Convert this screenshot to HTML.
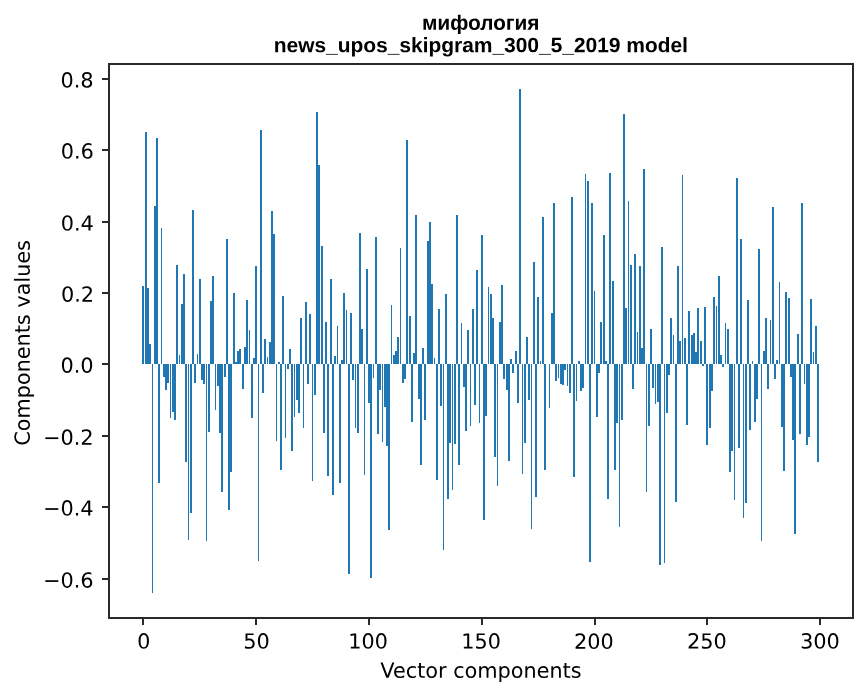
<!DOCTYPE html>
<html><head><meta charset="utf-8"><title>chart</title>
<style>html,body{margin:0;padding:0;background:#fff;}#c{position:relative;width:867px;height:696px;overflow:hidden;background:#fff;font-family:"Liberation Sans",sans-serif;}
#c svg{position:absolute;left:0;top:0;}</style></head>
<body><div id="c">
<svg width="867" height="696" viewBox="0 0 867 696" shape-rendering="crispEdges">
<g fill="#1f77b4"><rect x="142" y="286" width="2" height="78"/><rect x="145" y="132" width="2" height="232"/><rect x="147" y="288" width="2" height="76"/><rect x="149" y="344" width="2" height="20"/><rect x="152" y="364" width="1" height="229"/><rect x="154" y="206" width="2" height="158"/><rect x="156" y="138" width="2" height="226"/><rect x="158" y="364" width="2" height="119"/><rect x="161" y="228" width="1" height="136"/><rect x="163" y="364" width="2" height="13"/><rect x="165" y="364" width="2" height="26"/><rect x="167" y="364" width="2" height="19"/><rect x="170" y="364" width="1" height="54"/><rect x="172" y="364" width="2" height="48"/><rect x="174" y="364" width="2" height="56"/><rect x="176" y="265" width="2" height="99"/><rect x="179" y="355" width="1" height="9"/><rect x="181" y="304" width="2" height="60"/><rect x="183" y="274" width="2" height="90"/><rect x="185" y="364" width="2" height="98"/><rect x="188" y="364" width="1" height="176"/><rect x="190" y="364" width="2" height="149"/><rect x="192" y="210" width="2" height="154"/><rect x="194" y="364" width="2" height="19"/><rect x="197" y="354" width="1" height="10"/><rect x="199" y="279" width="2" height="85"/><rect x="201" y="364" width="2" height="16"/><rect x="203" y="364" width="2" height="20"/><rect x="206" y="364" width="1" height="177"/><rect x="208" y="364" width="2" height="68"/><rect x="210" y="301" width="2" height="63"/><rect x="212" y="276" width="2" height="88"/><rect x="215" y="364" width="1" height="46"/><rect x="217" y="364" width="2" height="22"/><rect x="219" y="364" width="2" height="69"/><rect x="221" y="364" width="2" height="128"/><rect x="224" y="364" width="2" height="13"/><rect x="226" y="239" width="2" height="125"/><rect x="228" y="364" width="2" height="146"/><rect x="230" y="364" width="2" height="108"/><rect x="233" y="293" width="2" height="71"/><rect x="235" y="362" width="2" height="2"/><rect x="237" y="351" width="2" height="13"/><rect x="239" y="349" width="2" height="15"/><rect x="242" y="364" width="2" height="25"/><rect x="244" y="347" width="2" height="17"/><rect x="246" y="300" width="2" height="64"/><rect x="249" y="330" width="1" height="34"/><rect x="251" y="364" width="2" height="54"/><rect x="253" y="358" width="2" height="6"/><rect x="255" y="266" width="2" height="98"/><rect x="258" y="364" width="1" height="197"/><rect x="260" y="130" width="2" height="234"/><rect x="262" y="364" width="2" height="29"/><rect x="264" y="339" width="2" height="25"/><rect x="267" y="357" width="1" height="7"/><rect x="269" y="342" width="2" height="22"/><rect x="271" y="211" width="2" height="153"/><rect x="273" y="234" width="2" height="130"/><rect x="276" y="364" width="1" height="77"/><rect x="278" y="362" width="2" height="2"/><rect x="280" y="364" width="2" height="106"/><rect x="282" y="296" width="2" height="68"/><rect x="285" y="364" width="1" height="74"/><rect x="287" y="364" width="2" height="5"/><rect x="289" y="349" width="2" height="15"/><rect x="291" y="364" width="2" height="87"/><rect x="294" y="364" width="1" height="53"/><rect x="296" y="364" width="2" height="36"/><rect x="298" y="364" width="2" height="49"/><rect x="300" y="318" width="2" height="46"/><rect x="303" y="364" width="1" height="64"/><rect x="305" y="302" width="2" height="62"/><rect x="307" y="364" width="2" height="20"/><rect x="309" y="314" width="2" height="50"/><rect x="312" y="364" width="1" height="117"/><rect x="314" y="364" width="2" height="31"/><rect x="316" y="112" width="2" height="252"/><rect x="318" y="165" width="2" height="199"/><rect x="321" y="246" width="2" height="118"/><rect x="323" y="364" width="2" height="69"/><rect x="325" y="322" width="2" height="42"/><rect x="327" y="364" width="2" height="112"/><rect x="330" y="279" width="2" height="85"/><rect x="332" y="364" width="2" height="131"/><rect x="334" y="356" width="2" height="8"/><rect x="337" y="326" width="1" height="38"/><rect x="339" y="364" width="2" height="119"/><rect x="341" y="360" width="2" height="4"/><rect x="343" y="293" width="2" height="71"/><rect x="346" y="310" width="1" height="54"/><rect x="348" y="364" width="2" height="210"/><rect x="350" y="313" width="2" height="51"/><rect x="352" y="364" width="2" height="16"/><rect x="355" y="364" width="1" height="64"/><rect x="357" y="364" width="2" height="69"/><rect x="359" y="233" width="2" height="131"/><rect x="361" y="329" width="2" height="35"/><rect x="364" y="364" width="1" height="111"/><rect x="366" y="269" width="2" height="95"/><rect x="368" y="364" width="2" height="39"/><rect x="370" y="364" width="2" height="214"/><rect x="373" y="364" width="1" height="14"/><rect x="375" y="237" width="2" height="127"/><rect x="377" y="364" width="2" height="70"/><rect x="379" y="364" width="2" height="26"/><rect x="382" y="364" width="1" height="78"/><rect x="384" y="364" width="2" height="43"/><rect x="386" y="364" width="2" height="82"/><rect x="388" y="364" width="2" height="166"/><rect x="391" y="305" width="1" height="59"/><rect x="393" y="355" width="2" height="9"/><rect x="395" y="351" width="2" height="13"/><rect x="397" y="337" width="2" height="27"/><rect x="400" y="248" width="1" height="116"/><rect x="402" y="364" width="2" height="19"/><rect x="404" y="364" width="2" height="15"/><rect x="406" y="140" width="2" height="224"/><rect x="409" y="316" width="2" height="48"/><rect x="411" y="364" width="2" height="58"/><rect x="413" y="353" width="2" height="11"/><rect x="415" y="215" width="2" height="149"/><rect x="418" y="364" width="2" height="35"/><rect x="420" y="364" width="2" height="101"/><rect x="422" y="348" width="2" height="16"/><rect x="424" y="364" width="2" height="56"/><rect x="427" y="241" width="2" height="123"/><rect x="429" y="222" width="2" height="142"/><rect x="431" y="284" width="2" height="80"/><rect x="434" y="358" width="1" height="6"/><rect x="436" y="364" width="2" height="116"/><rect x="438" y="309" width="2" height="55"/><rect x="440" y="364" width="2" height="42"/><rect x="443" y="364" width="1" height="186"/><rect x="445" y="294" width="2" height="70"/><rect x="447" y="364" width="2" height="135"/><rect x="449" y="364" width="2" height="79"/><rect x="452" y="364" width="1" height="126"/><rect x="454" y="364" width="2" height="80"/><rect x="456" y="215" width="2" height="149"/><rect x="458" y="364" width="2" height="101"/><rect x="461" y="323" width="1" height="41"/><rect x="463" y="364" width="2" height="23"/><rect x="465" y="364" width="2" height="67"/><rect x="467" y="330" width="2" height="34"/><rect x="470" y="364" width="1" height="62"/><rect x="472" y="309" width="2" height="55"/><rect x="474" y="364" width="2" height="41"/><rect x="476" y="270" width="2" height="94"/><rect x="479" y="364" width="1" height="59"/><rect x="481" y="235" width="2" height="129"/><rect x="483" y="364" width="2" height="156"/><rect x="485" y="364" width="2" height="52"/><rect x="488" y="287" width="1" height="77"/><rect x="490" y="294" width="2" height="70"/><rect x="492" y="318" width="2" height="46"/><rect x="494" y="364" width="2" height="93"/><rect x="497" y="364" width="1" height="122"/><rect x="499" y="322" width="2" height="42"/><rect x="501" y="285" width="2" height="79"/><rect x="503" y="364" width="2" height="15"/><rect x="506" y="364" width="2" height="26"/><rect x="508" y="364" width="2" height="97"/><rect x="510" y="359" width="2" height="5"/><rect x="512" y="364" width="2" height="9"/><rect x="515" y="351" width="2" height="13"/><rect x="517" y="364" width="2" height="39"/><rect x="519" y="89" width="2" height="275"/><rect x="522" y="364" width="1" height="110"/><rect x="524" y="364" width="2" height="79"/><rect x="526" y="337" width="2" height="27"/><rect x="528" y="364" width="2" height="36"/><rect x="531" y="364" width="1" height="165"/><rect x="533" y="262" width="2" height="102"/><rect x="535" y="364" width="2" height="133"/><rect x="537" y="297" width="2" height="67"/><rect x="540" y="361" width="1" height="3"/><rect x="542" y="217" width="2" height="147"/><rect x="544" y="364" width="2" height="106"/><rect x="549" y="364" width="1" height="44"/><rect x="551" y="313" width="2" height="51"/><rect x="553" y="203" width="2" height="161"/><rect x="555" y="364" width="2" height="17"/><rect x="558" y="364" width="1" height="14"/><rect x="560" y="364" width="2" height="20"/><rect x="562" y="364" width="2" height="21"/><rect x="564" y="364" width="2" height="6"/><rect x="567" y="364" width="1" height="22"/><rect x="569" y="364" width="2" height="29"/><rect x="571" y="197" width="2" height="167"/><rect x="573" y="364" width="2" height="113"/><rect x="576" y="364" width="1" height="37"/><rect x="578" y="361" width="2" height="3"/><rect x="580" y="364" width="2" height="27"/><rect x="582" y="364" width="2" height="24"/><rect x="585" y="174" width="1" height="190"/><rect x="587" y="181" width="2" height="183"/><rect x="589" y="364" width="2" height="198"/><rect x="591" y="203" width="2" height="161"/><rect x="594" y="291" width="1" height="73"/><rect x="596" y="364" width="2" height="53"/><rect x="598" y="364" width="2" height="9"/><rect x="600" y="322" width="2" height="42"/><rect x="603" y="235" width="2" height="129"/><rect x="605" y="361" width="2" height="3"/><rect x="607" y="364" width="2" height="135"/><rect x="609" y="173" width="2" height="191"/><rect x="612" y="281" width="2" height="83"/><rect x="614" y="364" width="2" height="106"/><rect x="616" y="364" width="2" height="59"/><rect x="619" y="364" width="1" height="163"/><rect x="621" y="364" width="2" height="56"/><rect x="623" y="114" width="2" height="250"/><rect x="625" y="308" width="2" height="56"/><rect x="628" y="201" width="1" height="163"/><rect x="630" y="265" width="2" height="99"/><rect x="632" y="364" width="2" height="25"/><rect x="634" y="254" width="2" height="110"/><rect x="637" y="332" width="1" height="32"/><rect x="639" y="266" width="2" height="98"/><rect x="641" y="348" width="2" height="16"/><rect x="643" y="169" width="2" height="195"/><rect x="646" y="364" width="1" height="128"/><rect x="648" y="364" width="2" height="62"/><rect x="650" y="329" width="2" height="35"/><rect x="652" y="364" width="2" height="24"/><rect x="655" y="364" width="1" height="40"/><rect x="657" y="364" width="2" height="38"/><rect x="659" y="364" width="2" height="201"/><rect x="661" y="247" width="2" height="117"/><rect x="664" y="364" width="1" height="199"/><rect x="666" y="364" width="2" height="49"/><rect x="668" y="364" width="2" height="11"/><rect x="670" y="318" width="2" height="46"/><rect x="673" y="335" width="1" height="29"/><rect x="675" y="364" width="2" height="138"/><rect x="677" y="266" width="2" height="98"/><rect x="679" y="341" width="2" height="23"/><rect x="682" y="175" width="1" height="189"/><rect x="684" y="338" width="2" height="26"/><rect x="686" y="364" width="2" height="61"/><rect x="688" y="311" width="2" height="53"/><rect x="691" y="335" width="2" height="29"/><rect x="693" y="333" width="2" height="31"/><rect x="695" y="352" width="2" height="12"/><rect x="697" y="308" width="2" height="56"/><rect x="700" y="341" width="2" height="23"/><rect x="702" y="364" width="2" height="2"/><rect x="704" y="307" width="2" height="57"/><rect x="706" y="364" width="2" height="81"/><rect x="709" y="364" width="2" height="64"/><rect x="711" y="364" width="2" height="27"/><rect x="713" y="297" width="2" height="67"/><rect x="716" y="306" width="1" height="58"/><rect x="718" y="276" width="2" height="88"/><rect x="720" y="355" width="2" height="9"/><rect x="722" y="364" width="2" height="3"/><rect x="725" y="323" width="1" height="41"/><rect x="727" y="329" width="2" height="35"/><rect x="729" y="364" width="2" height="108"/><rect x="731" y="364" width="2" height="87"/><rect x="734" y="364" width="1" height="136"/><rect x="736" y="178" width="2" height="186"/><rect x="738" y="364" width="2" height="84"/><rect x="740" y="239" width="2" height="125"/><rect x="743" y="364" width="1" height="154"/><rect x="745" y="364" width="2" height="139"/><rect x="747" y="300" width="2" height="64"/><rect x="749" y="364" width="2" height="66"/><rect x="752" y="361" width="1" height="3"/><rect x="754" y="364" width="2" height="58"/><rect x="756" y="364" width="2" height="35"/><rect x="758" y="249" width="2" height="115"/><rect x="761" y="364" width="1" height="177"/><rect x="763" y="351" width="2" height="13"/><rect x="765" y="318" width="2" height="46"/><rect x="767" y="364" width="2" height="25"/><rect x="770" y="320" width="1" height="44"/><rect x="772" y="207" width="2" height="157"/><rect x="774" y="364" width="2" height="15"/><rect x="776" y="360" width="2" height="4"/><rect x="779" y="282" width="1" height="82"/><rect x="781" y="364" width="2" height="63"/><rect x="783" y="364" width="2" height="107"/><rect x="785" y="292" width="2" height="72"/><rect x="788" y="298" width="2" height="66"/><rect x="790" y="364" width="2" height="13"/><rect x="792" y="364" width="2" height="76"/><rect x="794" y="364" width="2" height="170"/><rect x="797" y="334" width="2" height="30"/><rect x="799" y="364" width="2" height="70"/><rect x="801" y="203" width="2" height="161"/><rect x="804" y="364" width="1" height="20"/><rect x="806" y="364" width="2" height="81"/><rect x="808" y="364" width="2" height="73"/><rect x="810" y="299" width="2" height="65"/><rect x="813" y="352" width="1" height="12"/><rect x="815" y="326" width="2" height="38"/><rect x="817" y="364" width="2" height="98"/></g>
<g fill="#2a2a2a"><rect x="108" y="63" width="2" height="556"/><rect x="852" y="63" width="2" height="556"/><rect x="108" y="63" width="746" height="2"/><rect x="108" y="617" width="746" height="2"/><rect x="102" y="78" width="7" height="2"/><rect x="102" y="149" width="7" height="2"/><rect x="102" y="221" width="7" height="2"/><rect x="102" y="292" width="7" height="2"/><rect x="102" y="363" width="7" height="2"/><rect x="102" y="435" width="7" height="2"/><rect x="102" y="506" width="7" height="2"/><rect x="102" y="578" width="7" height="2"/><rect x="142" y="619" width="2" height="6"/><rect x="255" y="619" width="2" height="6"/><rect x="368" y="619" width="2" height="6"/><rect x="481" y="619" width="2" height="6"/><rect x="594" y="619" width="2" height="6"/><rect x="706" y="619" width="2" height="6"/><rect x="819" y="619" width="2" height="6"/></g>
</svg>
<svg style="position:absolute;left:0;top:0" width="867" height="696" viewBox="0 0 416.480 334.886"> <defs> <style type="text/css">*{stroke-linejoin: round; stroke-linecap: butt}</style> </defs> <g id="figure_1"> <g id="axes_1"> <g id="matplotlib.axis_1"> <g id="xtick_1"> <g id="text_1" transform="translate(0.0000 0.1200)"> <g transform="translate(65.645 311.928) scale(0.1 -0.1)"> <defs> <path id="DejaVuSans-30" d="M 2034 4250  Q 1547 4250 1301 3770  Q 1056 3291 1056 2328  Q 1056 1369 1301 889  Q 1547 409 2034 409  Q 2525 409 2770 889  Q 3016 1369 3016 2328  Q 3016 3291 2770 3770  Q 2525 4250 2034 4250  z M 2034 4750  Q 2819 4750 3233 4129  Q 3647 3509 3647 2328  Q 3647 1150 3233 529  Q 2819 -91 2034 -91  Q 1250 -91 836 529  Q 422 1150 422 2328  Q 422 3509 836 4129  Q 1250 4750 2034 4750  z " transform="scale(0.015625)" /> </defs> <use href="#DejaVuSans-30" /> </g> </g> </g> <g id="xtick_2"> <g id="text_2" transform="translate(0.1200 0.1200)"> <g transform="translate(116.609 311.928) scale(0.1 -0.1)"> <defs> <path id="DejaVuSans-35" d="M 691 4666  L 3169 4666  L 3169 4134  L 1269 4134  L 1269 2991  Q 1406 3038 1543 3061  Q 1681 3084 1819 3084  Q 2600 3084 3056 2656  Q 3513 2228 3513 1497  Q 3513 744 3044 326  Q 2575 -91 1722 -91  Q 1428 -91 1123 -41  Q 819 9 494 109  L 494 744  Q 775 591 1075 516  Q 1375 441 1709 441  Q 2250 441 2565 725  Q 2881 1009 2881 1497  Q 2881 1984 2565 2268  Q 2250 2553 1709 2553  Q 1456 2553 1204 2497  Q 953 2441 691 2322  L 691 4666  z " transform="scale(0.015625)" /> </defs> <use href="#DejaVuSans-35" /> <use href="#DejaVuSans-30" transform="translate(63.623 0)" /> </g> </g> </g> <g id="xtick_3"> <g id="text_3" transform="translate(-0.3600 0.1200)"> <g transform="translate(167.573 311.928) scale(0.1 -0.1)"> <defs> <path id="DejaVuSans-31" d="M 794 531  L 1825 531  L 1825 4091  L 703 3866  L 703 4441  L 1819 4666  L 2450 4666  L 2450 531  L 3481 531  L 3481 0  L 794 0  L 794 531  z " transform="scale(0.015625)" /> </defs> <use href="#DejaVuSans-31" /> <use href="#DejaVuSans-30" transform="translate(63.623 0)" /> <use href="#DejaVuSans-30" transform="translate(127.246 0)" /> </g> </g> </g> <g id="xtick_4"> <g id="text_4" transform="translate(-0.1200 0.1200)"> <g transform="translate(221.718 311.928) scale(0.1 -0.1)"> <use href="#DejaVuSans-31" /> <use href="#DejaVuSans-35" transform="translate(63.623 0)" /> <use href="#DejaVuSans-30" transform="translate(127.246 0)" /> </g> </g> </g> <g id="xtick_5"> <g id="text_5" transform="translate(0.0000 0.2400)"> <g transform="translate(275.863 311.928) scale(0.1 -0.1)"> <defs> <path id="DejaVuSans-32" d="M 1228 531  L 3431 531  L 3431 0  L 469 0  L 469 531  Q 828 903 1448 1529  Q 2069 2156 2228 2338  Q 2531 2678 2651 2914  Q 2772 3150 2772 3378  Q 2772 3750 2511 3984  Q 2250 4219 1831 4219  Q 1534 4219 1204 4116  Q 875 4013 500 3803  L 500 4441  Q 881 4594 1212 4672  Q 1544 4750 1819 4750  Q 2544 4750 2975 4387  Q 3406 4025 3406 3419  Q 3406 3131 3298 2873  Q 3191 2616 2906 2266  Q 2828 2175 2409 1742  Q 1991 1309 1228 531  z " transform="scale(0.015625)" /> </defs> <use href="#DejaVuSans-32" /> <use href="#DejaVuSans-30" transform="translate(63.623 0)" /> <use href="#DejaVuSans-30" transform="translate(127.246 0)" /> </g> </g> </g> <g id="xtick_6"> <g id="text_6" transform="translate(0.2400 0.1200)"> <g transform="translate(330.009 311.928) scale(0.1 -0.1)"> <use href="#DejaVuSans-32" /> <use href="#DejaVuSans-35" transform="translate(63.623 0)" /> <use href="#DejaVuSans-30" transform="translate(127.246 0)" /> </g> </g> </g> <g id="xtick_7"> <g id="text_7" transform="translate(0.4800 0.1200)"> <g transform="translate(384.154 311.928) scale(0.1 -0.1)"> <defs> <path id="DejaVuSans-33" d="M 2597 2516  Q 3050 2419 3304 2112  Q 3559 1806 3559 1356  Q 3559 666 3084 287  Q 2609 -91 1734 -91  Q 1441 -91 1130 -33  Q 819 25 488 141  L 488 750  Q 750 597 1062 519  Q 1375 441 1716 441  Q 2309 441 2620 675  Q 2931 909 2931 1356  Q 2931 1769 2642 2001  Q 2353 2234 1838 2234  L 1294 2234  L 1294 2753  L 1863 2753  Q 2328 2753 2575 2939  Q 2822 3125 2822 3475  Q 2822 3834 2567 4026  Q 2313 4219 1838 4219  Q 1578 4219 1281 4162  Q 984 4106 628 3988  L 628 4550  Q 988 4650 1302 4700  Q 1616 4750 1894 4750  Q 2613 4750 3031 4423  Q 3450 4097 3450 3541  Q 3450 3153 3228 2886  Q 3006 2619 2597 2516  z " transform="scale(0.015625)" /> </defs> <use href="#DejaVuSans-33" /> <use href="#DejaVuSans-30" transform="translate(63.623 0)" /> <use href="#DejaVuSans-30" transform="translate(127.246 0)" /> </g> </g> </g> <g id="text_8" transform="translate(0.3600 0.4800)"> <g transform="translate(182.306 325.606) scale(0.1 -0.1)"> <defs> <path id="DejaVuSans-56" d="M 1831 0  L 50 4666  L 709 4666  L 2188 738  L 3669 4666  L 4325 4666  L 2547 0  L 1831 0  z " transform="scale(0.015625)" /> <path id="DejaVuSans-65" d="M 3597 1894  L 3597 1613  L 953 1613  Q 991 1019 1311 708  Q 1631 397 2203 397  Q 2534 397 2845 478  Q 3156 559 3463 722  L 3463 178  Q 3153 47 2828 -22  Q 2503 -91 2169 -91  Q 1331 -91 842 396  Q 353 884 353 1716  Q 353 2575 817 3079  Q 1281 3584 2069 3584  Q 2775 3584 3186 3129  Q 3597 2675 3597 1894  z M 3022 2063  Q 3016 2534 2758 2815  Q 2500 3097 2075 3097  Q 1594 3097 1305 2825  Q 1016 2553 972 2059  L 3022 2063  z " transform="scale(0.015625)" /> <path id="DejaVuSans-63" d="M 3122 3366  L 3122 2828  Q 2878 2963 2633 3030  Q 2388 3097 2138 3097  Q 1578 3097 1268 2742  Q 959 2388 959 1747  Q 959 1106 1268 751  Q 1578 397 2138 397  Q 2388 397 2633 464  Q 2878 531 3122 666  L 3122 134  Q 2881 22 2623 -34  Q 2366 -91 2075 -91  Q 1284 -91 818 406  Q 353 903 353 1747  Q 353 2603 823 3093  Q 1294 3584 2113 3584  Q 2378 3584 2631 3529  Q 2884 3475 3122 3366  z " transform="scale(0.015625)" /> <path id="DejaVuSans-74" d="M 1172 4494  L 1172 3500  L 2356 3500  L 2356 3053  L 1172 3053  L 1172 1153  Q 1172 725 1289 603  Q 1406 481 1766 481  L 2356 481  L 2356 0  L 1766 0  Q 1100 0 847 248  Q 594 497 594 1153  L 594 3053  L 172 3053  L 172 3500  L 594 3500  L 594 4494  L 1172 4494  z " transform="scale(0.015625)" /> <path id="DejaVuSans-6f" d="M 1959 3097  Q 1497 3097 1228 2736  Q 959 2375 959 1747  Q 959 1119 1226 758  Q 1494 397 1959 397  Q 2419 397 2687 759  Q 2956 1122 2956 1747  Q 2956 2369 2687 2733  Q 2419 3097 1959 3097  z M 1959 3584  Q 2709 3584 3137 3096  Q 3566 2609 3566 1747  Q 3566 888 3137 398  Q 2709 -91 1959 -91  Q 1206 -91 779 398  Q 353 888 353 1747  Q 353 2609 779 3096  Q 1206 3584 1959 3584  z " transform="scale(0.015625)" /> <path id="DejaVuSans-72" d="M 2631 2963  Q 2534 3019 2420 3045  Q 2306 3072 2169 3072  Q 1681 3072 1420 2755  Q 1159 2438 1159 1844  L 1159 0  L 581 0  L 581 3500  L 1159 3500  L 1159 2956  Q 1341 3275 1631 3429  Q 1922 3584 2338 3584  Q 2397 3584 2469 3576  Q 2541 3569 2628 3553  L 2631 2963  z " transform="scale(0.015625)" /> <path id="DejaVuSans-20" transform="scale(0.015625)" /> <path id="DejaVuSans-6d" d="M 3328 2828  Q 3544 3216 3844 3400  Q 4144 3584 4550 3584  Q 5097 3584 5394 3201  Q 5691 2819 5691 2113  L 5691 0  L 5113 0  L 5113 2094  Q 5113 2597 4934 2840  Q 4756 3084 4391 3084  Q 3944 3084 3684 2787  Q 3425 2491 3425 1978  L 3425 0  L 2847 0  L 2847 2094  Q 2847 2600 2669 2842  Q 2491 3084 2119 3084  Q 1678 3084 1418 2786  Q 1159 2488 1159 1978  L 1159 0  L 581 0  L 581 3500  L 1159 3500  L 1159 2956  Q 1356 3278 1631 3431  Q 1906 3584 2284 3584  Q 2666 3584 2933 3390  Q 3200 3197 3328 2828  z " transform="scale(0.015625)" /> <path id="DejaVuSans-70" d="M 1159 525  L 1159 -1331  L 581 -1331  L 581 3500  L 1159 3500  L 1159 2969  Q 1341 3281 1617 3432  Q 1894 3584 2278 3584  Q 2916 3584 3314 3078  Q 3713 2572 3713 1747  Q 3713 922 3314 415  Q 2916 -91 2278 -91  Q 1894 -91 1617 61  Q 1341 213 1159 525  z M 3116 1747  Q 3116 2381 2855 2742  Q 2594 3103 2138 3103  Q 1681 3103 1420 2742  Q 1159 2381 1159 1747  Q 1159 1113 1420 752  Q 1681 391 2138 391  Q 2594 391 2855 752  Q 3116 1113 3116 1747  z " transform="scale(0.015625)" /> <path id="DejaVuSans-6e" d="M 3513 2113  L 3513 0  L 2938 0  L 2938 2094  Q 2938 2591 2744 2837  Q 2550 3084 2163 3084  Q 1697 3084 1428 2787  Q 1159 2491 1159 1978  L 1159 0  L 581 0  L 581 3500  L 1159 3500  L 1159 2956  Q 1366 3272 1645 3428  Q 1925 3584 2291 3584  Q 2894 3584 3203 3211  Q 3513 2838 3513 2113  z " transform="scale(0.015625)" /> <path id="DejaVuSans-73" d="M 2834 3397  L 2834 2853  Q 2591 2978 2328 3040  Q 2066 3103 1784 3103  Q 1356 3103 1142 2972  Q 928 2841 928 2578  Q 928 2378 1081 2264  Q 1234 2150 1697 2047  L 1894 2003  Q 2506 1872 2764 1633  Q 3022 1394 3022 966  Q 3022 478 2636 193  Q 2250 -91 1575 -91  Q 1294 -91 989 -36  Q 684 19 347 128  L 347 722  Q 666 556 975 473  Q 1284 391 1588 391  Q 1994 391 2212 530  Q 2431 669 2431 922  Q 2431 1156 2273 1281  Q 2116 1406 1581 1522  L 1381 1569  Q 847 1681 609 1914  Q 372 2147 372 2553  Q 372 3047 722 3315  Q 1072 3584 1716 3584  Q 2034 3584 2315 3537  Q 2597 3491 2834 3397  z " transform="scale(0.015625)" /> </defs> <use href="#DejaVuSans-56" /> <use href="#DejaVuSans-65" transform="translate(60.658 0)" /> <use href="#DejaVuSans-63" transform="translate(122.181 0)" /> <use href="#DejaVuSans-74" transform="translate(177.162 0)" /> <use href="#DejaVuSans-6f" transform="translate(216.371 0)" /> <use href="#DejaVuSans-72" transform="translate(277.552 0)" /> <use href="#DejaVuSans-20" transform="translate(318.666 0)" /> <use href="#DejaVuSans-63" transform="translate(350.453 0)" /> <use href="#DejaVuSans-6f" transform="translate(405.433 0)" /> <use href="#DejaVuSans-6d" transform="translate(466.615 0)" /> <use href="#DejaVuSans-70" transform="translate(564.027 0)" /> <use href="#DejaVuSans-6f" transform="translate(627.503 0)" /> <use href="#DejaVuSans-6e" transform="translate(688.685 0)" /> <use href="#DejaVuSans-65" transform="translate(752.064 0)" /> <use href="#DejaVuSans-6e" transform="translate(813.587 0)" /> <use href="#DejaVuSans-74" transform="translate(876.966 0)" /> <use href="#DejaVuSans-73" transform="translate(916.175 0)" /> </g> </g> </g> <g id="matplotlib.axis_2"> <g id="ytick_1"> <g id="text_9" transform="translate(-0.4800 0.4800)"> <g transform="translate(20.878 282.240) scale(0.1 -0.1)"> <defs> <path id="DejaVuSans-2212" d="M 678 2272  L 4684 2272  L 4684 1741  L 678 1741  L 678 2272  z " transform="scale(0.015625)" /> <path id="DejaVuSans-2e" d="M 684 794  L 1344 794  L 1344 0  L 684 0  L 684 794  z " transform="scale(0.015625)" /> <path id="DejaVuSans-36" d="M 2113 2584  Q 1688 2584 1439 2293  Q 1191 2003 1191 1497  Q 1191 994 1439 701  Q 1688 409 2113 409  Q 2538 409 2786 701  Q 3034 994 3034 1497  Q 3034 2003 2786 2293  Q 2538 2584 2113 2584  z M 3366 4563  L 3366 3988  Q 3128 4100 2886 4159  Q 2644 4219 2406 4219  Q 1781 4219 1451 3797  Q 1122 3375 1075 2522  Q 1259 2794 1537 2939  Q 1816 3084 2150 3084  Q 2853 3084 3261 2657  Q 3669 2231 3669 1497  Q 3669 778 3244 343  Q 2819 -91 2113 -91  Q 1303 -91 875 529  Q 447 1150 447 2328  Q 447 3434 972 4092  Q 1497 4750 2381 4750  Q 2619 4750 2861 4703  Q 3103 4656 3366 4563  z " transform="scale(0.015625)" /> </defs> <use href="#DejaVuSans-2212" /> <use href="#DejaVuSans-30" transform="translate(83.789 0)" /> <use href="#DejaVuSans-2e" transform="translate(147.412 0)" /> <use href="#DejaVuSans-36" transform="translate(179.199 0)" /> </g> </g> </g> <g id="ytick_2"> <g id="text_10" transform="translate(-0.4800 0.1200)"> <g transform="translate(20.878 247.932) scale(0.1 -0.1)"> <defs> <path id="DejaVuSans-34" d="M 2419 4116  L 825 1625  L 2419 1625  L 2419 4116  z M 2253 4666  L 3047 4666  L 3047 1625  L 3713 1625  L 3713 1100  L 3047 1100  L 3047 0  L 2419 0  L 2419 1100  L 313 1100  L 313 1709  L 2253 4666  z " transform="scale(0.015625)" /> </defs> <use href="#DejaVuSans-2212" /> <use href="#DejaVuSans-30" transform="translate(83.789 0)" /> <use href="#DejaVuSans-2e" transform="translate(147.412 0)" /> <use href="#DejaVuSans-34" transform="translate(179.199 0)" /> </g> </g> </g> <g id="ytick_3"> <g id="text_11" transform="translate(-0.4800 0.3600)"> <g transform="translate(20.878 213.625) scale(0.1 -0.1)"> <use href="#DejaVuSans-2212" /> <use href="#DejaVuSans-30" transform="translate(83.789 0)" /> <use href="#DejaVuSans-2e" transform="translate(147.412 0)" /> <use href="#DejaVuSans-32" transform="translate(179.199 0)" /> </g> </g> </g> <g id="ytick_4"> <g id="text_12" transform="translate(-0.4800 0.0000)"> <g transform="translate(29.257 179.317) scale(0.1 -0.1)"> <use href="#DejaVuSans-30" /> <use href="#DejaVuSans-2e" transform="translate(63.623 0)" /> <use href="#DejaVuSans-30" transform="translate(95.410 0)" /> </g> </g> </g> <g id="ytick_5"> <g id="text_13" transform="translate(-0.2400 0.1200)"> <g transform="translate(29.257 145.010) scale(0.1 -0.1)"> <use href="#DejaVuSans-30" /> <use href="#DejaVuSans-2e" transform="translate(63.623 0)" /> <use href="#DejaVuSans-32" transform="translate(95.410 0)" /> </g> </g> </g> <g id="ytick_6"> <g id="text_14" transform="translate(-0.3600 0.2400)"> <g transform="translate(29.257 110.702) scale(0.1 -0.1)"> <use href="#DejaVuSans-30" /> <use href="#DejaVuSans-2e" transform="translate(63.623 0)" /> <use href="#DejaVuSans-34" transform="translate(95.410 0)" /> </g> </g> </g> <g id="ytick_7"> <g id="text_15" transform="translate(-0.3600 -0.1200)"> <g transform="translate(29.257 76.394) scale(0.1 -0.1)"> <use href="#DejaVuSans-30" /> <use href="#DejaVuSans-2e" transform="translate(63.623 0)" /> <use href="#DejaVuSans-36" transform="translate(95.410 0)" /> </g> </g> </g> <g id="ytick_8"> <g id="text_16" transform="translate(-0.4800 0.0000)"> <g transform="translate(29.257 42.087) scale(0.1 -0.1)"> <defs> <path id="DejaVuSans-38" d="M 2034 2216  Q 1584 2216 1326 1975  Q 1069 1734 1069 1313  Q 1069 891 1326 650  Q 1584 409 2034 409  Q 2484 409 2743 651  Q 3003 894 3003 1313  Q 3003 1734 2745 1975  Q 2488 2216 2034 2216  z M 1403 2484  Q 997 2584 770 2862  Q 544 3141 544 3541  Q 544 4100 942 4425  Q 1341 4750 2034 4750  Q 2731 4750 3128 4425  Q 3525 4100 3525 3541  Q 3525 3141 3298 2862  Q 3072 2584 2669 2484  Q 3125 2378 3379 2068  Q 3634 1759 3634 1313  Q 3634 634 3220 271  Q 2806 -91 2034 -91  Q 1263 -91 848 271  Q 434 634 434 1313  Q 434 1759 690 2068  Q 947 2378 1403 2484  z M 1172 3481  Q 1172 3119 1398 2916  Q 1625 2713 2034 2713  Q 2441 2713 2670 2916  Q 2900 3119 2900 3481  Q 2900 3844 2670 4047  Q 2441 4250 2034 4250  Q 1625 4250 1398 4047  Q 1172 3844 1172 3481  z " transform="scale(0.015625)" /> </defs> <use href="#DejaVuSans-30" /> <use href="#DejaVuSans-2e" transform="translate(63.623 0)" /> <use href="#DejaVuSans-38" transform="translate(95.410 0)" /> </g> </g> </g> <g id="text_17" transform="translate(-0.8400 0.7200)"> <g transform="translate(14.798 213.759) rotate(-90) scale(0.1 -0.1)"> <defs> <path id="DejaVuSans-43" d="M 4122 4306  L 4122 3641  Q 3803 3938 3442 4084  Q 3081 4231 2675 4231  Q 1875 4231 1450 3742  Q 1025 3253 1025 2328  Q 1025 1406 1450 917  Q 1875 428 2675 428  Q 3081 428 3442 575  Q 3803 722 4122 1019  L 4122 359  Q 3791 134 3420 21  Q 3050 -91 2638 -91  Q 1578 -91 968 557  Q 359 1206 359 2328  Q 359 3453 968 4101  Q 1578 4750 2638 4750  Q 3056 4750 3426 4639  Q 3797 4528 4122 4306  z " transform="scale(0.015625)" /> <path id="DejaVuSans-76" d="M 191 3500  L 800 3500  L 1894 563  L 2988 3500  L 3597 3500  L 2284 0  L 1503 0  L 191 3500  z " transform="scale(0.015625)" /> <path id="DejaVuSans-61" d="M 2194 1759  Q 1497 1759 1228 1600  Q 959 1441 959 1056  Q 959 750 1161 570  Q 1363 391 1709 391  Q 2188 391 2477 730  Q 2766 1069 2766 1631  L 2766 1759  L 2194 1759  z M 3341 1997  L 3341 0  L 2766 0  L 2766 531  Q 2569 213 2275 61  Q 1981 -91 1556 -91  Q 1019 -91 701 211  Q 384 513 384 1019  Q 384 1609 779 1909  Q 1175 2209 1959 2209  L 2766 2209  L 2766 2266  Q 2766 2663 2505 2880  Q 2244 3097 1772 3097  Q 1472 3097 1187 3025  Q 903 2953 641 2809  L 641 3341  Q 956 3463 1253 3523  Q 1550 3584 1831 3584  Q 2591 3584 2966 3190  Q 3341 2797 3341 1997  z " transform="scale(0.015625)" /> <path id="DejaVuSans-6c" d="M 603 4863  L 1178 4863  L 1178 0  L 603 0  L 603 4863  z " transform="scale(0.015625)" /> <path id="DejaVuSans-75" d="M 544 1381  L 544 3500  L 1119 3500  L 1119 1403  Q 1119 906 1312 657  Q 1506 409 1894 409  Q 2359 409 2629 706  Q 2900 1003 2900 1516  L 2900 3500  L 3475 3500  L 3475 0  L 2900 0  L 2900 538  Q 2691 219 2414 64  Q 2138 -91 1772 -91  Q 1169 -91 856 284  Q 544 659 544 1381  z M 1991 3584  L 1991 3584  z " transform="scale(0.015625)" /> </defs> <use href="#DejaVuSans-43" /> <use href="#DejaVuSans-6f" transform="translate(69.824 0)" /> <use href="#DejaVuSans-6d" transform="translate(131.005 0)" /> <use href="#DejaVuSans-70" transform="translate(228.417 0)" /> <use href="#DejaVuSans-6f" transform="translate(291.894 0)" /> <use href="#DejaVuSans-6e" transform="translate(353.076 0)" /> <use href="#DejaVuSans-65" transform="translate(416.455 0)" /> <use href="#DejaVuSans-6e" transform="translate(477.978 0)" /> <use href="#DejaVuSans-74" transform="translate(541.357 0)" /> <use href="#DejaVuSans-73" transform="translate(580.566 0)" /> <use href="#DejaVuSans-20" transform="translate(632.666 0)" /> <use href="#DejaVuSans-76" transform="translate(664.453 0)" /> <use href="#DejaVuSans-61" transform="translate(723.632 0)" /> <use href="#DejaVuSans-6c" transform="translate(784.912 0)" /> <use href="#DejaVuSans-75" transform="translate(812.695 0)" /> <use href="#DejaVuSans-65" transform="translate(876.074 0)" /> <use href="#DejaVuSans-73" transform="translate(937.597 0)" /> </g> </g> </g> <g id="text_18" transform="translate(0.2400 -0.1200)"> <g transform="translate(202.478 14.446) scale(0.1 -0.1)"> <defs> <path id="LiberationSans-Bold-43c" d="M 2719 0  L 2053 0  L 1166 2766  Q 1216 2281 1216 1963  L 1216 0  L 447 0  L 447 3381  L 1609 3381  L 2172 1628  Q 2350 1053 2384 734  Q 2434 1103 2597 1628  L 3144 3381  L 4288 3381  L 4288 0  L 3519 0  L 3519 1963  Q 3519 2284 3575 2772  L 2719 0  z " transform="scale(0.015625)" /> <path id="LiberationSans-Bold-438" d="M 1263 3381  L 1263 1863  Q 1263 1719 1241 1403  Q 1219 1088 1200 966  L 2600 3381  L 3491 3381  L 3491 0  L 2678 0  L 2678 1719  Q 2678 1875 2700 2103  Q 2722 2331 2741 2416  L 1381 0  L 444 0  L 444 3381  L 1263 3381  z " transform="scale(0.015625)" /> <path id="LiberationSans-Bold-444" d="M 5341 1706  Q 5341 859 5027 398  Q 4713 -63 4150 -63  Q 3828 -63 3583 89  Q 3338 241 3206 538  L 3188 538  Q 3206 444 3206 -31  L 3206 -1328  L 2391 -1328  L 2391 550  L 2384 550  Q 2122 -63 1391 -63  Q 847 -63 551 400  Q 256 863 256 1688  Q 256 2528 568 2986  Q 881 3444 1450 3444  Q 1784 3444 2025 3291  Q 2266 3138 2391 2847  L 2397 2847  L 2391 3403  L 2391 4638  L 3206 4638  L 3206 2831  Q 3478 3453 4200 3453  Q 4741 3453 5041 3001  Q 5341 2550 5341 1706  z M 2403 1709  Q 2403 2250 2245 2548  Q 2088 2847 1778 2847  Q 1475 2847 1323 2567  Q 1172 2288 1172 1688  Q 1172 538 1772 538  Q 2075 538 2239 848  Q 2403 1159 2403 1709  z M 4425 1706  Q 4425 2844 3819 2844  Q 3519 2844 3356 2541  Q 3194 2238 3194 1681  Q 3194 1138 3355 838  Q 3516 538 3816 538  Q 4425 538 4425 1706  z " transform="scale(0.015625)" /> <path id="LiberationSans-Bold-43e" d="M 3659 1694  Q 3659 872 3203 404  Q 2747 -63 1941 -63  Q 1150 -63 700 406  Q 250 875 250 1694  Q 250 2509 700 2976  Q 1150 3444 1959 3444  Q 2788 3444 3223 2992  Q 3659 2541 3659 1694  z M 2741 1694  Q 2741 2297 2544 2569  Q 2347 2841 1972 2841  Q 1172 2841 1172 1694  Q 1172 1128 1367 833  Q 1563 538 1931 538  Q 2741 538 2741 1694  z " transform="scale(0.015625)" /> <path id="LiberationSans-Bold-43b" d="M 2738 0  L 2738 2788  L 1769 2788  Q 1603 1563 1504 1094  Q 1406 625 1293 386  Q 1181 147 1009 42  Q 838 -63 547 -63  Q 434 -63 286 -50  Q 138 -38 66 -22  L 66 575  Q 144 547 278 547  Q 453 547 545 709  Q 638 872 730 1347  Q 822 1822 1034 3381  L 3619 3381  L 3619 0  L 2738 0  z " transform="scale(0.015625)" /> <path id="LiberationSans-Bold-433" d="M 2494 3381  L 2494 2788  L 1328 2788  L 1328 0  L 447 0  L 447 3381  L 2494 3381  z " transform="scale(0.015625)" /> <path id="LiberationSans-Bold-44f" d="M 1806 1359  L 956 0  L -3 0  L 1003 1472  Q 647 1556 461 1800  Q 275 2044 275 2413  Q 275 2894 654 3137  Q 1034 3381 1766 3381  L 3288 3381  L 3288 0  L 2406 0  L 2406 1359  L 1806 1359  z M 2413 2834  L 1813 2834  Q 1172 2834 1172 2363  Q 1172 1897 1763 1897  L 2413 1897  L 2413 2834  z " transform="scale(0.015625)" /> </defs> <use href="#LiberationSans-Bold-43c" /> <use href="#LiberationSans-Bold-438" transform="translate(73.974 0)" /> <use href="#LiberationSans-Bold-444" transform="translate(135.449 0)" /> <use href="#LiberationSans-Bold-43e" transform="translate(221.574 0)" /> <use href="#LiberationSans-Bold-43b" transform="translate(280.158 0)" /> <use href="#LiberationSans-Bold-43e" transform="translate(342.308 0)" /> <use href="#LiberationSans-Bold-433" transform="translate(403.392 0)" /> <use href="#LiberationSans-Bold-438" transform="translate(445.042 0)" /> <use href="#LiberationSans-Bold-44f" transform="translate(506.517 0)" /> </g> <g transform="matrix(1.007 0 0 1 -1.556 0) translate(131.785 25.218) scale(0.1 -0.1)"> <defs> <path id="LiberationSans-Bold-6e" d="M 2638 0  L 2638 1897  Q 2638 2788 2034 2788  Q 1716 2788 1520 2514  Q 1325 2241 1325 1813  L 1325 0  L 447 0  L 447 2625  Q 447 2897 439 3070  Q 431 3244 422 3381  L 1259 3381  Q 1269 3322 1284 3064  Q 1300 2806 1300 2709  L 1313 2709  Q 1491 3097 1759 3272  Q 2028 3447 2400 3447  Q 2938 3447 3225 3115  Q 3513 2784 3513 2147  L 3513 0  L 2638 0  z " transform="scale(0.015625)" /> <path id="LiberationSans-Bold-65" d="M 1831 -63  Q 1069 -63 659 389  Q 250 841 250 1706  Q 250 2544 665 2994  Q 1081 3444 1844 3444  Q 2572 3444 2956 2961  Q 3341 2478 3341 1547  L 3341 1522  L 1172 1522  Q 1172 1028 1355 776  Q 1538 525 1875 525  Q 2341 525 2463 928  L 3291 856  Q 2931 -63 1831 -63  z M 1831 2891  Q 1522 2891 1355 2675  Q 1188 2459 1178 2072  L 2491 2072  Q 2466 2481 2294 2686  Q 2122 2891 1831 2891  z " transform="scale(0.015625)" /> <path id="LiberationSans-Bold-77" d="M 4103 0  L 3175 0  L 2638 2063  Q 2600 2203 2491 2756  L 2328 2056  L 1784 0  L 856 0  L -19 3381  L 806 3381  L 1363 797  L 1406 1028  L 1484 1394  L 2016 3381  L 2956 3381  L 3475 1394  Q 3519 1231 3603 797  L 3691 1209  L 4178 3381  L 4991 3381  L 4103 0  z " transform="scale(0.015625)" /> <path id="LiberationSans-Bold-73" d="M 3297 988  Q 3297 497 2895 217  Q 2494 -63 1784 -63  Q 1088 -63 717 157  Q 347 378 225 844  L 997 959  Q 1063 719 1223 619  Q 1384 519 1784 519  Q 2153 519 2322 612  Q 2491 706 2491 906  Q 2491 1069 2355 1164  Q 2219 1259 1894 1325  Q 1150 1472 890 1598  Q 631 1725 495 1926  Q 359 2128 359 2422  Q 359 2906 732 3176  Q 1106 3447 1791 3447  Q 2394 3447 2761 3212  Q 3128 2978 3219 2534  L 2441 2453  Q 2403 2659 2256 2761  Q 2109 2863 1791 2863  Q 1478 2863 1322 2783  Q 1166 2703 1166 2516  Q 1166 2369 1286 2283  Q 1406 2197 1691 2141  Q 2088 2059 2395 1973  Q 2703 1888 2889 1769  Q 3075 1650 3186 1464  Q 3297 1278 3297 988  z " transform="scale(0.015625)" /> <path id="LiberationSans-Bold-5f" d="M -63 -781  L -63 -538  L 3616 -538  L 3616 -781  L -63 -781  z " transform="scale(0.015625)" /> <path id="LiberationSans-Bold-75" d="M 1275 3381  L 1275 1484  Q 1275 594 1875 594  Q 2194 594 2389 867  Q 2584 1141 2584 1569  L 2584 3381  L 3463 3381  L 3463 756  Q 3463 325 3488 0  L 2650 0  Q 2613 450 2613 672  L 2597 672  Q 2422 288 2151 112  Q 1881 -63 1509 -63  Q 972 -63 684 267  Q 397 597 397 1234  L 397 3381  L 1275 3381  z " transform="scale(0.015625)" /> <path id="LiberationSans-Bold-70" d="M 3647 1706  Q 3647 859 3308 398  Q 2969 -63 2350 -63  Q 1994 -63 1730 92  Q 1466 247 1325 538  L 1306 538  Q 1325 444 1325 -31  L 1325 -1328  L 447 -1328  L 447 2603  Q 447 3081 422 3381  L 1275 3381  Q 1291 3325 1302 3159  Q 1313 2994 1313 2831  L 1325 2831  Q 1622 3453 2406 3453  Q 2997 3453 3322 2998  Q 3647 2544 3647 1706  z M 2731 1706  Q 2731 2844 2034 2844  Q 1684 2844 1498 2537  Q 1313 2231 1313 1681  Q 1313 1134 1498 836  Q 1684 538 2028 538  Q 2731 538 2731 1706  z " transform="scale(0.015625)" /> <path id="LiberationSans-Bold-6f" d="M 3659 1694  Q 3659 872 3203 404  Q 2747 -63 1941 -63  Q 1150 -63 700 406  Q 250 875 250 1694  Q 250 2509 700 2976  Q 1150 3444 1959 3444  Q 2788 3444 3223 2992  Q 3659 2541 3659 1694  z M 2741 1694  Q 2741 2297 2544 2569  Q 2347 2841 1972 2841  Q 1172 2841 1172 1694  Q 1172 1128 1367 833  Q 1563 538 1931 538  Q 2741 538 2741 1694  z " transform="scale(0.015625)" /> <path id="LiberationSans-Bold-6b" d="M 2606 0  L 1703 1531  L 1325 1269  L 1325 0  L 447 0  L 447 4638  L 1325 4638  L 1325 1981  L 2531 3381  L 3475 3381  L 2288 2063  L 3566 0  L 2606 0  z " transform="scale(0.015625)" /> <path id="LiberationSans-Bold-69" d="M 447 3991  L 447 4638  L 1325 4638  L 1325 3991  L 447 3991  z M 447 0  L 447 3381  L 1325 3381  L 1325 0  L 447 0  z " transform="scale(0.015625)" /> <path id="LiberationSans-Bold-67" d="M 1863 -1356  Q 1244 -1356 867 -1120  Q 491 -884 403 -447  L 1281 -344  Q 1328 -547 1483 -662  Q 1638 -778 1888 -778  Q 2253 -778 2422 -553  Q 2591 -328 2591 116  L 2591 294  L 2597 628  L 2591 628  Q 2300 6 1503 6  Q 913 6 588 450  Q 263 894 263 1719  Q 263 2547 597 2997  Q 931 3447 1569 3447  Q 2306 3447 2591 2838  L 2606 2838  Q 2606 2947 2620 3134  Q 2634 3322 2650 3381  L 3481 3381  Q 3463 3044 3463 2600  L 3463 103  Q 3463 -619 3053 -987  Q 2644 -1356 1863 -1356  z M 2597 1738  Q 2597 2259 2411 2551  Q 2225 2844 1881 2844  Q 1178 2844 1178 1719  Q 1178 616 1875 616  Q 2225 616 2411 908  Q 2597 1200 2597 1738  z " transform="scale(0.015625)" /> <path id="LiberationSans-Bold-72" d="M 447 0  L 447 2588  Q 447 2866 439 3052  Q 431 3238 422 3381  L 1259 3381  Q 1269 3325 1284 3039  Q 1300 2753 1300 2659  L 1313 2659  Q 1441 3016 1541 3161  Q 1641 3306 1778 3376  Q 1916 3447 2122 3447  Q 2291 3447 2394 3400  L 2394 2666  Q 2181 2713 2019 2713  Q 1691 2713 1508 2447  Q 1325 2181 1325 1659  L 1325 0  L 447 0  z " transform="scale(0.015625)" /> <path id="LiberationSans-Bold-61" d="M 1228 -63  Q 738 -63 463 204  Q 188 472 188 956  Q 188 1481 530 1756  Q 872 2031 1522 2038  L 2250 2050  L 2250 2222  Q 2250 2553 2134 2714  Q 2019 2875 1756 2875  Q 1513 2875 1398 2764  Q 1284 2653 1256 2397  L 341 2441  Q 425 2934 792 3189  Q 1159 3444 1794 3444  Q 2434 3444 2781 3128  Q 3128 2813 3128 2231  L 3128 1000  Q 3128 716 3192 608  Q 3256 500 3406 500  Q 3506 500 3600 519  L 3600 44  Q 3522 25 3459 9  Q 3397 -6 3334 -15  Q 3272 -25 3201 -31  Q 3131 -38 3038 -38  Q 2706 -38 2548 125  Q 2391 288 2359 603  L 2341 603  Q 1972 -63 1228 -63  z M 2250 1566  L 1800 1559  Q 1494 1547 1366 1492  Q 1238 1438 1170 1325  Q 1103 1213 1103 1025  Q 1103 784 1214 667  Q 1325 550 1509 550  Q 1716 550 1886 662  Q 2056 775 2153 973  Q 2250 1172 2250 1394  L 2250 1566  z " transform="scale(0.015625)" /> <path id="LiberationSans-Bold-6d" d="M 2438 0  L 2438 1897  Q 2438 2788 1925 2788  Q 1659 2788 1492 2516  Q 1325 2244 1325 1813  L 1325 0  L 447 0  L 447 2625  Q 447 2897 439 3070  Q 431 3244 422 3381  L 1259 3381  Q 1269 3322 1284 3064  Q 1300 2806 1300 2709  L 1313 2709  Q 1475 3097 1717 3272  Q 1959 3447 2297 3447  Q 3072 3447 3238 2709  L 3256 2709  Q 3428 3103 3668 3275  Q 3909 3447 4281 3447  Q 4775 3447 5034 3111  Q 5294 2775 5294 2147  L 5294 0  L 4422 0  L 4422 1897  Q 4422 2788 3909 2788  Q 3653 2788 3489 2539  Q 3325 2291 3309 1853  L 3309 0  L 2438 0  z " transform="scale(0.015625)" /> <path id="LiberationSans-Bold-33" d="M 3328 1222  Q 3328 603 2922 265  Q 2516 -72 1766 -72  Q 1056 -72 637 254  Q 219 581 147 1197  L 1041 1275  Q 1125 641 1763 641  Q 2078 641 2253 797  Q 2428 953 2428 1275  Q 2428 1569 2215 1725  Q 2003 1881 1584 1881  L 1278 1881  L 1278 2591  L 1566 2591  Q 1944 2591 2134 2745  Q 2325 2900 2325 3188  Q 2325 3459 2173 3614  Q 2022 3769 1731 3769  Q 1459 3769 1292 3619  Q 1125 3469 1100 3194  L 222 3256  Q 291 3825 694 4147  Q 1097 4469 1747 4469  Q 2438 4469 2827 4158  Q 3216 3847 3216 3297  Q 3216 2884 2973 2618  Q 2731 2353 2275 2266  L 2275 2253  Q 2781 2194 3054 1920  Q 3328 1647 3328 1222  z " transform="scale(0.015625)" /> <path id="LiberationSans-Bold-30" d="M 3297 2203  Q 3297 1088 2914 512  Q 2531 -63 1766 -63  Q 253 -63 253 2203  Q 253 2994 418 3494  Q 584 3994 915 4231  Q 1247 4469 1791 4469  Q 2572 4469 2934 3903  Q 3297 3338 3297 2203  z M 2416 2203  Q 2416 2813 2356 3150  Q 2297 3488 2165 3634  Q 2034 3781 1784 3781  Q 1519 3781 1383 3632  Q 1247 3484 1189 3148  Q 1131 2813 1131 2203  Q 1131 1600 1192 1261  Q 1253 922 1386 775  Q 1519 628 1772 628  Q 2022 628 2158 783  Q 2294 938 2355 1278  Q 2416 1619 2416 2203  z " transform="scale(0.015625)" /> <path id="LiberationSans-Bold-35" d="M 3381 1466  Q 3381 766 2945 351  Q 2509 -63 1750 -63  Q 1088 -63 689 235  Q 291 534 197 1100  L 1075 1172  Q 1144 891 1319 762  Q 1494 634 1759 634  Q 2088 634 2283 843  Q 2478 1053 2478 1447  Q 2478 1794 2293 2001  Q 2109 2209 1778 2209  Q 1413 2209 1181 1925  L 325 1925  L 478 4403  L 3125 4403  L 3125 3750  L 1275 3750  L 1203 2638  Q 1522 2919 2000 2919  Q 2628 2919 3004 2528  Q 3381 2138 3381 1466  z " transform="scale(0.015625)" /> <path id="LiberationSans-Bold-32" d="M 222 0  L 222 609  Q 394 988 711 1347  Q 1028 1706 1509 2097  Q 1972 2472 2158 2715  Q 2344 2959 2344 3194  Q 2344 3769 1766 3769  Q 1484 3769 1336 3617  Q 1188 3466 1144 3163  L 259 3213  Q 334 3825 717 4147  Q 1100 4469 1759 4469  Q 2472 4469 2853 4144  Q 3234 3819 3234 3231  Q 3234 2922 3112 2672  Q 2991 2422 2800 2211  Q 2609 2000 2376 1815  Q 2144 1631 1925 1456  Q 1706 1281 1526 1103  Q 1347 925 1259 722  L 3303 722  L 3303 0  L 222 0  z " transform="scale(0.015625)" /> <path id="LiberationSans-Bold-31" d="M 403 0  L 403 653  L 1494 653  L 1494 3656  L 438 2997  L 438 3688  L 1541 4403  L 2372 4403  L 2372 653  L 3381 653  L 3381 0  L 403 0  z " transform="scale(0.015625)" /> <path id="LiberationSans-Bold-39" d="M 3322 2272  Q 3322 1100 2894 518  Q 2466 -63 1678 -63  Q 1097 -63 767 185  Q 438 434 300 972  L 1125 1088  Q 1247 628 1688 628  Q 2056 628 2254 981  Q 2453 1334 2459 2028  Q 2341 1794 2070 1661  Q 1800 1528 1488 1528  Q 906 1528 564 1923  Q 222 2319 222 2994  Q 222 3688 623 4078  Q 1025 4469 1759 4469  Q 2550 4469 2936 3920  Q 3322 3372 3322 2272  z M 2394 2888  Q 2394 3297 2214 3539  Q 2034 3781 1738 3781  Q 1447 3781 1280 3570  Q 1113 3359 1113 2988  Q 1113 2622 1278 2401  Q 1444 2181 1741 2181  Q 2022 2181 2208 2373  Q 2394 2566 2394 2888  z " transform="scale(0.015625)" /> <path id="LiberationSans-Bold-20" transform="scale(0.015625)" /> <path id="LiberationSans-Bold-64" d="M 2638 0  Q 2625 47 2608 236  Q 2591 425 2591 550  L 2578 550  Q 2294 -63 1497 -63  Q 906 -63 584 398  Q 263 859 263 1688  Q 263 2528 602 2986  Q 941 3444 1563 3444  Q 1922 3444 2183 3294  Q 2444 3144 2584 2847  L 2591 2847  L 2584 3403  L 2584 4638  L 3463 4638  L 3463 738  Q 3463 425 3488 0  L 2638 0  z M 2597 1709  Q 2597 2256 2414 2551  Q 2231 2847 1875 2847  Q 1522 2847 1350 2561  Q 1178 2275 1178 1688  Q 1178 538 1869 538  Q 2216 538 2406 842  Q 2597 1147 2597 1709  z " transform="scale(0.015625)" /> <path id="LiberationSans-Bold-6c" d="M 447 0  L 447 4638  L 1325 4638  L 1325 0  L 447 0  z " transform="scale(0.015625)" /> </defs> <use href="#LiberationSans-Bold-6e" /> <use href="#LiberationSans-Bold-65" transform="translate(61.083 0)" /> <use href="#LiberationSans-Bold-77" transform="translate(116.699 0)" /> <use href="#LiberationSans-Bold-73" transform="translate(194.482 0)" /> <use href="#LiberationSans-Bold-5f" transform="translate(250.097 0)" /> <use href="#LiberationSans-Bold-75" transform="translate(305.712 0)" /> <use href="#LiberationSans-Bold-70" transform="translate(366.796 0)" /> <use href="#LiberationSans-Bold-6f" transform="translate(427.880 0)" /> <use href="#LiberationSans-Bold-73" transform="translate(488.964 0)" /> <use href="#LiberationSans-Bold-5f" transform="translate(544.580 0)" /> <use href="#LiberationSans-Bold-73" transform="translate(600.195 0)" /> <use href="#LiberationSans-Bold-6b" transform="translate(655.810 0)" /> <use href="#LiberationSans-Bold-69" transform="translate(711.425 0)" /> <use href="#LiberationSans-Bold-70" transform="translate(739.208 0)" /> <use href="#LiberationSans-Bold-67" transform="translate(800.292 0)" /> <use href="#LiberationSans-Bold-72" transform="translate(861.376 0)" /> <use href="#LiberationSans-Bold-61" transform="translate(900.292 0)" /> <use href="#LiberationSans-Bold-6d" transform="translate(955.908 0)" /> <use href="#LiberationSans-Bold-5f" transform="translate(1044.824 0)" /> <use href="#LiberationSans-Bold-33" transform="translate(1100.439 0)" /> <use href="#LiberationSans-Bold-30" transform="translate(1156.054 0)" /> <use href="#LiberationSans-Bold-30" transform="translate(1211.669 0)" /> <use href="#LiberationSans-Bold-5f" transform="translate(1267.285 0)" /> <use href="#LiberationSans-Bold-35" transform="translate(1322.900 0)" /> <use href="#LiberationSans-Bold-5f" transform="translate(1378.515 0)" /> <use href="#LiberationSans-Bold-32" transform="translate(1434.130 0)" /> <use href="#LiberationSans-Bold-30" transform="translate(1489.746 0)" /> <use href="#LiberationSans-Bold-31" transform="translate(1545.361 0)" /> <use href="#LiberationSans-Bold-39" transform="translate(1600.976 0)" /> <use href="#LiberationSans-Bold-20" transform="translate(1656.591 0)" /> <use href="#LiberationSans-Bold-6d" transform="translate(1684.375 0)" /> <use href="#LiberationSans-Bold-6f" transform="translate(1773.291 0)" /> <use href="#LiberationSans-Bold-64" transform="translate(1834.375 0)" /> <use href="#LiberationSans-Bold-65" transform="translate(1895.458 0)" /> <use href="#LiberationSans-Bold-6c" transform="translate(1951.074 0)" /> </g> </g> </g> </g> <defs> </defs> </svg>
</div></body></html>
